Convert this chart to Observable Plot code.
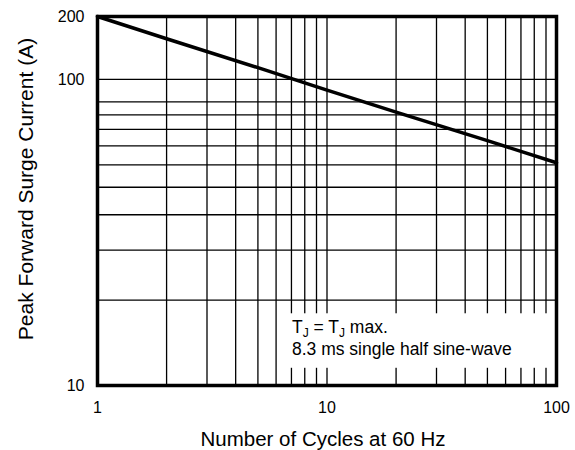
<!DOCTYPE html>
<html>
<head>
<meta charset="utf-8">
<script src="https://cdn.jsdelivr.net/npm/d3@7"></script>
<script src="https://cdn.jsdelivr.net/npm/@observablehq/plot@0.6"></script>
<style>
  body { margin: 0; background: #fff; }
  #chart svg { font-family: "Liberation Sans", Arial, Helvetica, sans-serif; }
</style>
</head>
<body>
<div id="chart"></div>
<script>
// surge curve (straight line on log-log)
const cycles = [1, 2, 5, 10, 20, 50, 100]
const current = [200, 167, 132, 110, 92, 73, 61]

// grid lines
const xGrid = [2, 3, 4, 5, 6, 7, 8, 9, 10, 20, 30, 40, 50, 60, 70, 80, 90]
const yGrid = [20, 30, 40, 50, 60, 70, 80, 90, 100, 120]

// tick labels (the source prints "100" on its top grid line, near 120)
const xTicks = [1, 10, 100]
const xTickLabels = ["1", "10", "100"]
const yTicks = [10, 120, 200]
const yTickLabels = ["10", "100", "200"]

// note box, in data units
const noteBox = [{x1: 6.5, x2: 100, y1: 11.5, y2: 17.9}]
const noteX = 7.07
const noteY = [15.25, 12.75]

const data = cycles.map((c, i) => ({cycles: c, current: current[i]}))

let chart = Plot.plot({
  width: 575,
  height: 450,
  marginLeft: 97,
  marginRight: 19,
  marginTop: 16,
  marginBottom: 65,
  style: {fontSize: "16px", color: "#000", background: "#fff"},
  x: {
    type: "log",
    domain: [1, 100],
    ticks: xTicks,
    tickFormat: d => xTickLabels[xTicks.indexOf(d)],
    tickSize: 0,
    tickPadding: 16,
    label: null
  },
  y: {
    type: "log",
    domain: [10, 200],
    ticks: yTicks,
    tickFormat: d => yTickLabels[yTicks.indexOf(d)],
    tickSize: 0,
    tickPadding: 13,
    label: null
  },
  marks: [
    Plot.ruleX(xGrid, {stroke: "#000", strokeWidth: 1.3}),
    Plot.ruleY(yGrid, {stroke: "#000", strokeWidth: 1.3}),
    Plot.rect(noteBox, {x1: "x1", x2: "x2", y1: "y1", y2: "y2", fill: "#fff"}),
    Plot.line(data, {x: "cycles", y: "current", stroke: "#000", strokeWidth: 3.5}),
    Plot.frame({stroke: "#000", strokeWidth: 3.5})
  ]
})

var svg = d3.select('#chart').append(() => chart)

const sx = chart.scale("x")
const sy = chart.scale("y")

// note text with subscripts
let t1 = svg.append("text")
  .attr("x", sx.apply(noteX))
  .attr("y", sy.apply(noteY[0]))
  .attr("text-anchor", "start")
  .style("font-size", "17.5px")
t1.append("tspan").text("T")
t1.append("tspan").attr("dy", 4).style("font-size", "12px").text("J")
t1.append("tspan").attr("dy", -4).text(" = T")
t1.append("tspan").attr("dy", 4).style("font-size", "12px").text("J")
t1.append("tspan").attr("dy", -4).text(" max.")

svg.append("text")
  .attr("x", sx.apply(noteX))
  .attr("y", sy.apply(noteY[1]))
  .attr("text-anchor", "start")
  .style("font-size", "17.5px")
  .text("8.3 ms single half sine-wave")

// axis titles
svg.append("text")
  .attr("x", 323)
  .attr("y", 446)
  .attr("text-anchor", "middle")
  .style("font-size", "20.5px")
  .text("Number of Cycles at 60 Hz")

svg.append("text")
  .attr("transform", "translate(33,189) rotate(-90)")
  .attr("text-anchor", "middle")
  .style("font-size", "21px")
  .text("Peak Forward Surge Current (A)")
</script>
</body>
</html>
